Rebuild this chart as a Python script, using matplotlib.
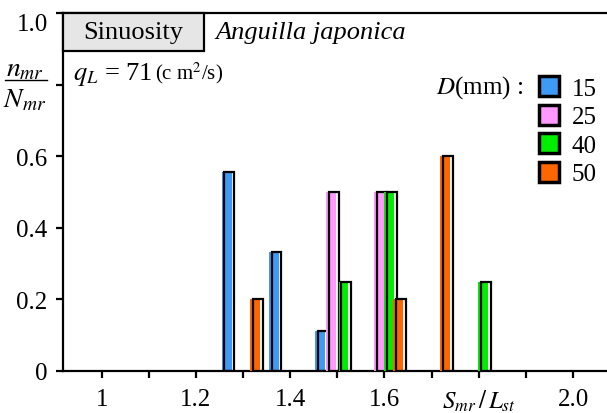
import numpy as np
import matplotlib.pyplot as plt
from matplotlib.patches import Rectangle, Patch
from matplotlib.lines import Line2D

plt.rcParams['font.family'] = ['Liberation Serif', 'DejaVu Serif']
plt.rcParams['mathtext.fontset'] = 'stix'

# Datos
diametros = ['15', '25', '40', '50']
colores = ['#3d9bf5', '#ff99ff', '#00ee00', '#ff6600']
x15 = [1.268, 1.368, 1.466]
y15 = [0.556, 0.333, 0.111]
x25 = [1.489, 1.591]
y25 = [0.5, 0.5]
x40 = [1.516, 1.612, 1.812]
y40 = [0.25, 0.5, 0.25]
x50 = [1.328, 1.632, 1.732]
y50 = [0.2, 0.2, 0.6]

xticks = [1.0, 1.2, 1.4, 1.6, 1.8, 2.0]
xlabels = ['1', '1.2', '1.4', '1.6', r'$S_{mr}\,/\,L_{st}$', '2.0']
yticks = [0, 0.2, 0.4, 0.6, 0.8, 1.0]
ylabels = ['0', '0.2', '0.4', '0.6', '', '1.0']

W, H = 607, 414
fig = plt.figure(figsize=(W / 100, H / 100), dpi=100)
ax = fig.add_axes([63 / W, 42 / H, 1 - 63 / W, 358 / H])


def px(x, y):
    # pixeles de la imagen -> coordenadas de figura
    return x / W, 1 - y / H


# barras con un pequeño desplazamiento entre relleno y contorno
w = 0.021
off = 0.003
series = [(x15, y15), (x25, y25), (x40, y40), (x50, y50)]
for i, ((xs, ys), c) in enumerate(zip(series, colores)):
    xs = np.array(xs)
    ax.bar(xs - off, ys, width=w, color=c, linewidth=0, zorder=2 + 2 * i)
    ax.bar(xs + off, ys, width=w, fill=False, edgecolor='black',
           linewidth=1.6, zorder=3 + 2 * i)

ax.set_xlim(0.918, 2.072)
ax.set_ylim(0, 1)
ax.set_xticks(xticks)
ax.set_xticklabels(xlabels)
ax.set_xticks(np.arange(1.1, 2.0, 0.2), minor=True)
ax.set_yticks(yticks)
ax.set_yticklabels(ylabels)
ax.tick_params(which='both', direction='out', length=5, width=1.6,
               labelsize=18, pad=6)
ax.tick_params(axis='x', pad=7)
ax.get_yticklabels()[-1].set_va('top')
ax.spines['right'].set_visible(False)
for s in ['left', 'bottom', 'top']:
    ax.spines[s].set_linewidth(1.6)

# cuadro "Sinuosity"
ax.add_patch(Rectangle((0, 0.894), 0.259, 0.106, transform=ax.transAxes,
                       facecolor='#e6e6e6', edgecolor='black', linewidth=1.6,
                       clip_on=False, zorder=20))
fig.text(*px(133, 33), 'Sinuosity', fontsize=19, ha='center', va='center', zorder=21)
fig.text(*px(215, 33), 'Anguilla japonica', fontsize=19, style='italic',
         ha='left', va='center')
fig.text(*px(73, 75), r'$q_L$ = 71', fontsize=19, ha='left', va='center')
fig.text(*px(155, 73), r'(c m$^2$/s)', fontsize=15, ha='left', va='center')

# etiqueta del eje y en forma de fracción
fig.text(*px(25, 70), r'$n_{mr}$', fontsize=20, ha='center', va='center')
fig.text(*px(25, 101), r'$N_{mr}$', fontsize=20, ha='center', va='center')
fig.add_artist(Line2D([5 / W, 47 / W], [1 - 81 / H, 1 - 81 / H], color='black',
                      linewidth=1.0, transform=fig.transFigure))

# leyenda
fig.text(*px(523, 88), r'$D$(mm) :', fontsize=18, ha='right', va='center')
handles = [Patch(facecolor=c, edgecolor='black', linewidth=2.5) for c in colores]
ax.legend(handles, diametros, loc='upper left', bbox_to_anchor=px(539, 77),
          bbox_transform=fig.transFigure, frameon=False, fontsize=18,
          handlelength=0.8, handleheight=0.85, handletextpad=0.5,
          labelspacing=0.2, borderpad=0, borderaxespad=0)

fig.savefig('out.png', dpi=100)
